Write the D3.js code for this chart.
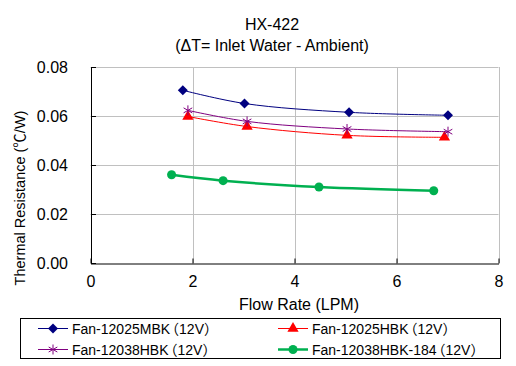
<!DOCTYPE html>
<html lang="en">
<head>
<meta charset="UTF-8">
<title>HX-422</title>
<script src="https://cdn.jsdelivr.net/npm/d3@7/dist/d3.min.js"></script>
<style>
    body { margin: 0; padding: 0; background: #fff; }
    text { font-family: "Liberation Sans", "Noto Sans CJK KR", sans-serif; font-size: 16px; fill: #000; }
    .grid line { stroke: #c0c0c0; stroke-width: 1; }
    .axis path, .axis line { stroke: #000; }
    .legend text { font-size: 14px; }
</style>
</head>
<body>
<svg width="516" height="366"></svg>
<script>
// data
var seriesNames = ['Fan-12025MBK（12V）', 'Fan-12025HBK（12V）', 'Fan-12038HBK（12V）', 'Fan-12038HBK-184（12V）'];
var mbkFlow = [1.81, 3.02, 5.07, 7.01];
var mbkRes  = [0.0705, 0.0651, 0.0615, 0.0603];
var hbkFlow = [1.91, 3.07, 5.03, 6.94];
var hbkRes  = [0.0598, 0.0557, 0.0521, 0.0513];
var hbk38Flow = [1.91, 3.07, 5.03, 7.01];
var hbk38Res  = [0.0623, 0.0578, 0.0547, 0.0536];
var hbk184Flow = [1.59, 2.60, 4.48, 6.73];
var hbk184Res  = [0.0360, 0.0336, 0.0310, 0.0295];
var xTicks = [0, 2, 4, 6, 8];
var yTicks = [0, 0.02, 0.04, 0.06, 0.08];

var colors = ['#000080', '#ff0000', '#800080', '#00b050'];
var symbols = [d3.symbolSquare, d3.symbolTriangle, d3.symbolAsterisk, d3.symbolCircle];
var symSize = [50, 55, 70, 64];
var symRot = [45, 0, 0, 0];
var widths = [1, 1, 1, 2.5];

var series = [
    {name: seriesNames[0], x: mbkFlow, y: mbkRes},
    {name: seriesNames[1], x: hbkFlow, y: hbkRes},
    {name: seriesNames[2], x: hbk38Flow, y: hbk38Res},
    {name: seriesNames[3], x: hbk184Flow, y: hbk184Res}
];

var svg = d3.select('svg');
var plotL = 90.5, plotR = 498.5, plotT = 67, plotB = 263;

var x = d3.scaleLinear().domain([0, 8]).range([plotL, plotR]);
var y = d3.scaleLinear().domain([0, 0.08]).range([plotB, plotT]);

// titles
svg.append('text').attr('x', 272).attr('y', 30).attr('text-anchor', 'middle').text('HX-422');
svg.append('text').attr('x', 272).attr('y', 51).attr('text-anchor', 'middle').text('(ΔT= Inlet Water - Ambient)');

// gridlines
var grid = svg.append('g').attr('class', 'grid');
grid.selectAll('line.h').data(yTicks.slice(1)).enter().append('line')
    .attr('class', 'h')
    .attr('x1', plotL).attr('x2', plotR)
    .attr('y1', function(d) { return Math.round(y(d)) + 0.5; })
    .attr('y2', function(d) { return Math.round(y(d)) + 0.5; });
grid.selectAll('line.v').data(xTicks.slice(1)).enter().append('line')
    .attr('class', 'v')
    .attr('y1', plotT).attr('y2', plotB)
    .attr('x1', function(d) { return Math.round(x(d)) + 0.5; })
    .attr('x2', function(d) { return Math.round(x(d)) + 0.5; });

// axes
svg.append('g').attr('class', 'axis')
    .attr('transform', 'translate(0,' + (plotB + 0.5) + ')')
    .call(d3.axisBottom(x).tickValues(xTicks).tickSize(-5).tickPadding(12).tickSizeOuter(0).tickFormat(d3.format('d')));
svg.append('g').attr('class', 'axis')
    .attr('transform', 'translate(' + (plotL + 0.5) + ',0)')
    .call(d3.axisLeft(y).tickValues(yTicks).tickSize(-5).tickPadding(23).tickSizeOuter(0).tickFormat(d3.format('.2f')));
svg.selectAll('.axis').attr('font-family', null).attr('font-size', null);

// axis titles
svg.append('text').attr('x', 299).attr('y', 310).attr('text-anchor', 'middle').text('Flow Rate (LPM)');
svg.append('text').attr('transform', 'translate(25,198) rotate(-90)').attr('text-anchor', 'middle')
    .style('font-size', '14.5px').text('Thermal Resistance (℃/W)');

// lines and markers
var line = d3.line().curve(d3.curveCatmullRom.alpha(0.5))
    .x(function(d) { return x(d[0]); })
    .y(function(d) { return y(d[1]); });

function marker(sel, i) {
    sel.attr('d', d3.symbol().type(symbols[i]).size(symSize[i]))
        .attr('fill', i === 2 ? 'none' : colors[i])
        .attr('stroke', colors[i])
        .attr('stroke-width', i === 2 ? 1 : 0);
}

series.forEach(function(s, i) {
    var pts = s.x.map(function(v, j) { return [v, s.y[j]]; });
    svg.append('path').datum(pts)
        .attr('d', line)
        .attr('fill', 'none')
        .attr('stroke', colors[i])
        .attr('stroke-width', widths[i]);
    svg.selectAll('.m' + i).data(pts).enter().append('path')
        .attr('class', 'm' + i)
        .attr('transform', function(d) { return 'translate(' + x(d[0]) + ',' + y(d[1]) + ') rotate(' + symRot[i] + ')'; })
        .call(marker, i);
});

// legend
var legend = svg.append('g').attr('class', 'legend');
legend.append('rect').attr('x', 20.5).attr('y', 318.5).attr('width', 480).attr('height', 40)
    .attr('fill', '#fff').attr('stroke', '#000');
var legPos = [[38, 328], [278, 328], [38, 349], [278, 349]];
series.forEach(function(s, i) {
    var g = legend.append('g').attr('transform', 'translate(' + legPos[i][0] + ',' + legPos[i][1] + ')');
    g.append('line').attr('x1', 0).attr('x2', 30).attr('y1', 0.5).attr('y2', 0.5)
        .attr('stroke', colors[i]).attr('stroke-width', widths[i]);
    g.append('path').attr('transform', 'translate(15,0.5) rotate(' + symRot[i] + ')')
        .call(marker, i);
    var k = s.name.indexOf('（');
    var t = g.append('text').attr('x', 34).attr('y', 5.5);
    t.append('tspan').text(s.name.slice(0, k));
    t.append('tspan').attr('dx', -5).text(s.name.slice(k));
});
</script>
</body>
</html>
